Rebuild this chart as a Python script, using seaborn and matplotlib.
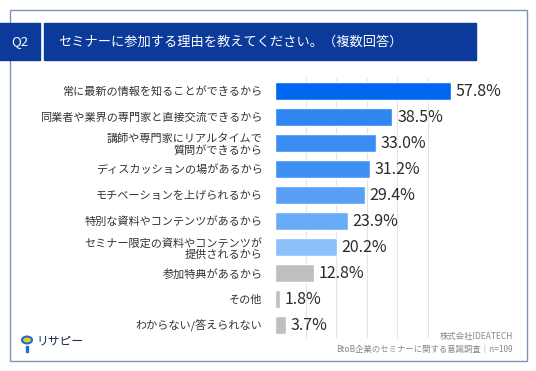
import matplotlib.pyplot as plt
import matplotlib.patches as patches
import seaborn as sns
import pandas as pd

# data
reasons = [
    "常に最新の情報を知ることができるから",
    "同業者や業界の専門家と直接交流できるから",
    "講師や専門家にリアルタイムで\n質問ができるから",
    "ディスカッションの場があるから",
    "モチベーションを上げられるから",
    "特別な資料やコンテンツがあるから",
    "セミナー限定の資料やコンテンツが\n提供されるから",
    "参加特典があるから",
    "その他",
    "わからない/答えられない",
]
pct = [57.8, 38.5, 33.0, 31.2, 29.4, 23.9, 20.2, 12.8, 1.8, 3.7]
bar_colors = ["#0068f0", "#2f86f2", "#3b8df3", "#3f90f4", "#58a0f6",
              "#6aabf8", "#8cc0fb", "#bfbfbf", "#bfbfbf", "#bfbfbf"]

title = "セミナーに参加する理由を教えてください。（複数回答）"
source = ["株式会社IDEATECH", "BtoB企業のセミナーに関する意識調査｜n=109"]

sns.set_theme(style="white")
plt.rcParams['font.family'] = ['Noto Sans CJK JP', 'DejaVu Sans']

W, H = 536, 371
fig = plt.figure(figsize=(W / 100, H / 100), dpi=100)

# outer frame
fig.patches.append(patches.Rectangle((10 / W, 10 / H), 517 / W, 351 / H, transform=fig.transFigure,
                                     fill=False, edgecolor="#7f93b8", lw=1, zorder=1))
# header boxes
navy = "#0b3a9a"
fig.patches.append(patches.Rectangle((0, (H - 60) / H), 40 / W, 37 / H, transform=fig.transFigure,
                                     color=navy, zorder=2))
fig.patches.append(patches.Rectangle((44 / W, (H - 60) / H), 432 / W, 37 / H, transform=fig.transFigure,
                                     color=navy, zorder=2))
fig.text(20 / W, (H - 42) / H, "Q2", color="white", fontsize=9.5, ha="center", va="center", zorder=3)
fig.text(58 / W, (H - 42) / H, title, color="white", fontsize=9.5, ha="left", va="center", zorder=3)

ax = fig.add_axes([275 / W, 33 / H, 183 / W, 260 / H])
df = pd.DataFrame({"reason": reasons, "pct": pct})
sns.barplot(data=df, x="pct", y="reason", hue="reason", palette=bar_colors, legend=False,
            width=0.73, saturation=1, ax=ax)
ax.set_xlim(0, 60)
ax.set_xticks(range(10, 61, 10))
ax.xaxis.grid(True, color="#e4e4e4", lw=0.8)
ax.set_axisbelow(True)
for s in ax.spines.values():
    s.set_visible(False)
ax.set_xlabel("")
ax.set_ylabel("")
ax.tick_params(axis="x", labelbottom=False, length=0)
ax.tick_params(axis="y", length=0, pad=9, labelsize=8, labelcolor="#333333")
for lab in ax.get_yticklabels():
    lab.set_linespacing(1.1)

for i, v in enumerate(pct):
    ax.text(v + 1.5, i, f"{v:.1f}%", va="center", ha="left", fontsize=11.5, color="#2b2b2b")

# source note
fig.text(513 / W, (H - 337) / H, source[0], fontsize=6, color="#888888", ha="right", va="center")
fig.text(513 / W, (H - 349) / H, source[1], fontsize=6, color="#888888", ha="right", va="center")

# logo
fig.patches.append(patches.Circle((27 / W, (H - 340) / H), 5 / W, transform=fig.transFigure,
                                  facecolor="#f5c518", edgecolor="#1a6fd8", lw=1.5, zorder=3))
fig.patches.append(patches.Rectangle((26.3 / W, (H - 352) / H), 1.4 / W, 6 / H, transform=fig.transFigure,
                                     color="#1a6fd8", zorder=3))
fig.text(36 / W, (H - 341) / H, "リサピー", fontsize=8.5, color="#1b2a4a", ha="left", va="center")

fig.savefig("out.png", dpi=100)
